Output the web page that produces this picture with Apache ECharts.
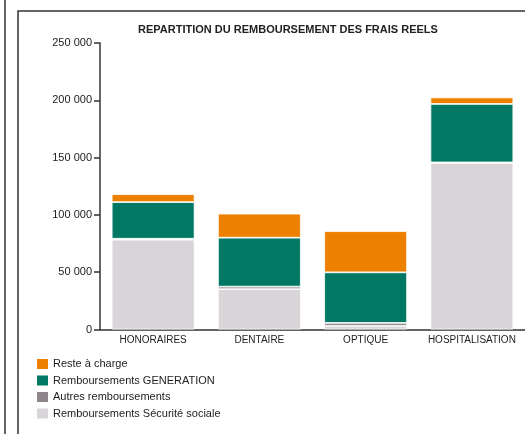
<!DOCTYPE html>
<html>
<head>
<meta charset="utf-8">
<script src="https://cdn.jsdelivr.net/npm/echarts@6/dist/echarts.min.js"></script>
<style>
  html, body { margin: 0; padding: 0; background: #fff; }
  #chart { width: 525px; height: 434px; }
</style>
</head>
<body>
<div id="chart"></div>
<script>
  // données
  const categories = ['HONORAIRES', 'DENTAIRE', 'OPTIQUE', 'HOSPITALISATION']
  const secuSociale = [78400, 35200, 3200, 145400]
  const autres = [800, 2200, 2600, 400]
  const generation = [32000, 42700, 44100, 51000]
  const resteACharge = [6900, 21000, 35900, 5700]
  const yTicks = [0, 50000, 100000, 150000, 200000, 250000]

  const font = 'Liberation Sans, Arial, sans-serif'
  const fmt = v => String(v).replace(/\B(?=(\d{3})+(?!\d))/g, ' ')

  const seg = (name, color, data) => ({
    name: name,
    type: 'bar',
    stack: 'total',
    barCategoryGap: '22%',
    itemStyle: { color: color, borderColor: '#fff', borderWidth: 0.8 },
    data: data
  })

  const chart = echarts.init(document.getElementById('chart'))
  chart.setOption({
    animation: false,
    textStyle: { fontFamily: font },
    title: {
      text: 'REPARTITION DU REMBOURSEMENT DES FRAIS REELS',
      left: 133,
      top: 19,
      textStyle: { fontSize: 11, fontWeight: 'bold', color: '#222', fontFamily: font }
    },
    // cadre
    graphic: [
      { type: 'rect', shape: { x: 18, y: 11, width: 540, height: 440 }, style: { fill: 'none', stroke: '#333', lineWidth: 1.5 } },
      { type: 'line', shape: { x1: 5, y1: 0, x2: 5, y2: 434 }, style: { stroke: '#333', lineWidth: 1.5 } }
    ],
    grid: { left: 100, top: 43, width: 427, height: 286.5 },
    legend: {
      data: ['Reste à charge', 'Remboursements GENERATION', 'Autres remboursements', 'Remboursements Sécurité sociale'],
      orient: 'vertical',
      left: 35,
      top: 357,
      height: 80,
      padding: 0,
      itemWidth: 13,
      itemHeight: 12,
      itemGap: 2.5,
      icon: 'rect',
      textStyle: { fontSize: 11, color: '#222', fontFamily: font, padding: [0, 0, 0, -1] }
    },
    xAxis: {
      type: 'category',
      data: categories,
      axisLine: { lineStyle: { color: '#333', width: 1.5 } },
      axisTick: { length: 6, lineStyle: { color: '#333', width: 1.5 } },
      axisLabel: { interval: 0, fontSize: 10, color: '#222', margin: 6, fontFamily: font }
    },
    yAxis: {
      type: 'value',
      min: yTicks[0],
      max: yTicks[yTicks.length - 1],
      interval: yTicks[1] - yTicks[0],
      axisLine: { show: true, lineStyle: { color: '#333', width: 1.5 } },
      axisTick: { show: true, length: 6, lineStyle: { color: '#333', width: 1.5 } },
      splitLine: { show: false },
      axisLabel: { fontSize: 11, color: '#222', margin: 8, formatter: fmt, fontFamily: font }
    },
    series: [
      seg('Remboursements Sécurité sociale', '#d8d4d8', secuSociale),
      seg('Autres remboursements', '#8c868b', autres),
      seg('Remboursements GENERATION', '#007864', generation),
      seg('Reste à charge', '#ee8000', resteACharge)
    ]
  })
</script>
</body>
</html>
